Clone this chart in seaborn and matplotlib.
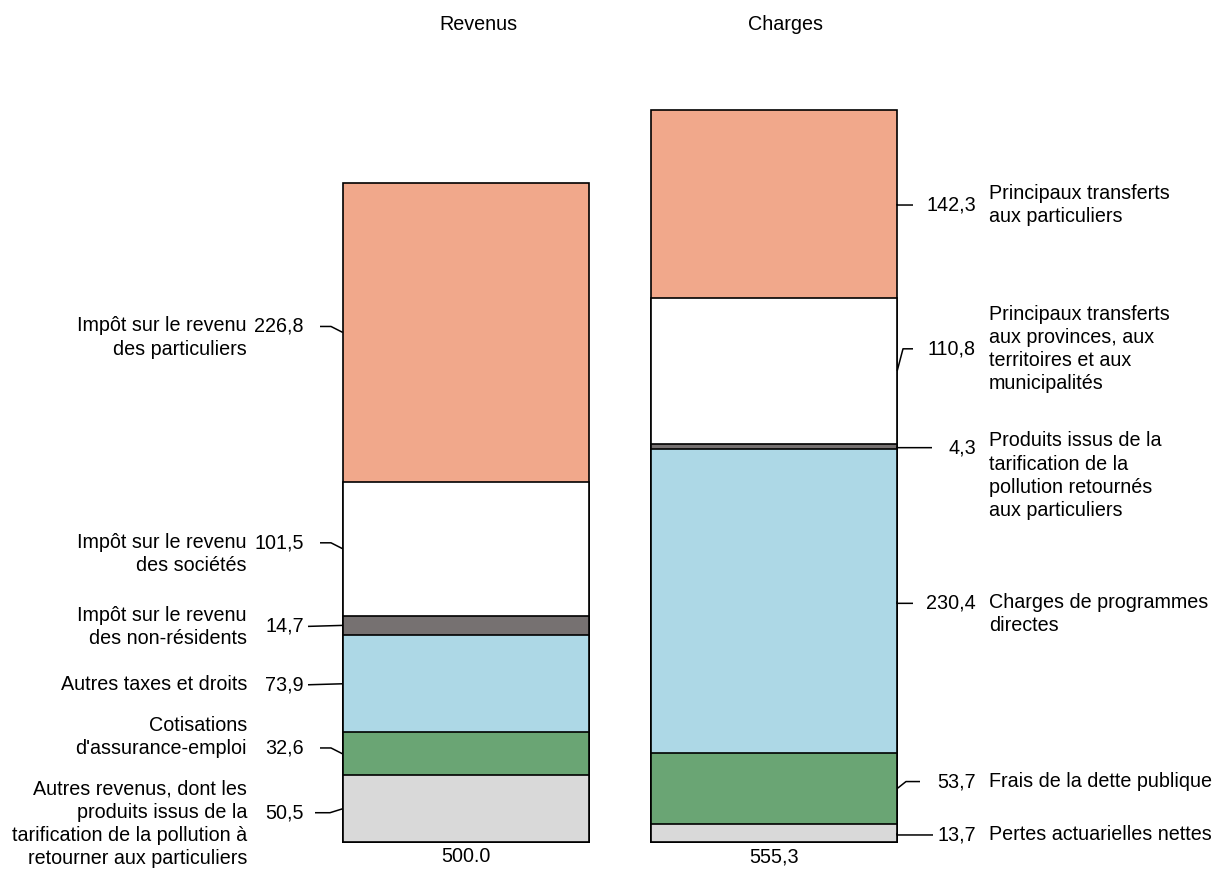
import matplotlib
matplotlib.use("Agg")
import matplotlib.pyplot as plt
import seaborn as sns
import pandas as pd
import numpy as np

# ---- data ----
groups = ["Revenus", "Charges"]
total_labels = ["500.0", "555,3"]

revenus_values = [50.5, 32.6, 73.9, 14.7, 101.5, 226.8]
revenus_labels = [
    "Autres revenus, dont les\nproduits issus de la\ntarification de la pollution à\nretourner aux particuliers",
    "Cotisations\nd'assurance-emploi",
    "Autres taxes et droits",
    "Impôt sur le revenu\ndes non-résidents",
    "Impôt sur le revenu\ndes sociétés",
    "Impôt sur le revenu\ndes particuliers",
]

charges_values = [13.7, 53.7, 230.4, 4.3, 110.8, 142.3]
charges_labels = [
    "Pertes actuarielles nettes",
    "Frais de la dette publique",
    "Charges de programmes\ndirectes",
    "Produits issus de la\ntarification de la\npollution retournés\naux particuliers",
    "Principaux transferts\naux provinces, aux\nterritoires et aux\nmunicipalités",
    "Principaux transferts\naux particuliers",
]

# one colour per stack level, bottom to top
layer_colors = ["#d9d9d9", "#6aa574", "#add8e6", "#767171", "#ffffff", "#f1a88b"]

# ---- layout (pixels) ----
W, H = 1213, 873
BASE_PY = 842          # pixel row of value 0
PX_PER_UNIT = 1.318    # pixels per unit of value
CENTER0_PX = 466       # pixel column of first bar centre
STEP_PX = 308          # pixels between bar centres
FS = 14.2

# label offsets, bottom to top: number dy from segment middle, text dy from number
left_num_dy = [4, -6, 1, 1, -6, -6]
left_text_dy = [11, -11, 0, 1, 11, 11]
left_leader = [(315, 330), (320, 331), (308, 308), (308, 308), (320, 331), (320, 331)]

right_num_dy = [2, -7, 2, 1, -22, 1]
right_text_dy = [0, 0, 11, 28, 0, 0]
right_leader = [(897, 933), (906, 920), (897, 913), (897, 932), (903, 913), (897, 913)]


def px_x(px):
    return (px - CENTER0_PX) / STEP_PX


def dv(dpx):
    # pixel offset (down positive) to value offset
    return -dpx / PX_PER_UNIT


def fmt(v):
    return f"{v:.1f}".replace(".", ",")


sns.set_theme(style="white")
plt.rcParams["font.family"] = ["Liberation Sans", "DejaVu Sans"]
plt.rcParams["text.color"] = "black"

fig = plt.figure(figsize=(W / 100, H / 100), dpi=100)
ax = fig.add_axes([0, 0, 1, 1])

stacks = [np.cumsum(revenus_values), np.cumsum(charges_values)]

# draw from the top layer down so each lower cumulative bar covers the one above
for k in reversed(range(len(layer_colors))):
    frame = pd.DataFrame({"group": groups, "top": [s[k] for s in stacks]})
    sns.barplot(data=frame, x="group", y="top", order=groups, color=layer_colors[k],
                saturation=1, edgecolor="black", linewidth=1.2, width=0.8,
                errorbar=None, ax=ax)

ax.set_xlim(px_x(0), px_x(W))
ax.set_ylim((BASE_PY - H) / PX_PER_UNIT, BASE_PY / PX_PER_UNIT)
ax.axis("off")

# titles and totals
for i, (g, t) in enumerate(zip(groups, total_labels)):
    ax.text(i + 12 / STEP_PX, (BASE_PY - 25) / PX_PER_UNIT, g, ha="center", va="center", fontsize=FS)
    ax.text(i, (BASE_PY - 857) / PX_PER_UNIT, t, ha="center", va="center", fontsize=FS)

# left labels (Revenus)
bottoms = np.concatenate([[0], stacks[0][:-1]])
for k, v in enumerate(revenus_values):
    mid = bottoms[k] + v / 2
    ny = mid + dv(left_num_dy[k])
    ax.text(px_x(304), ny, fmt(v), ha="right", va="center", fontsize=FS)
    ax.text(px_x(247), ny + dv(left_text_dy[k]), revenus_labels[k], ha="right", va="center",
            multialignment="right", fontsize=FS, linespacing=1.28)
    x0, xe = left_leader[k]
    ax.plot([px_x(x0), px_x(xe), -0.4], [ny, ny, mid], color="black", lw=1.1,
            solid_capstyle="butt")

# right labels (Charges)
bottoms = np.concatenate([[0], stacks[1][:-1]])
for k, v in enumerate(charges_values):
    mid = bottoms[k] + v / 2
    ny = mid + dv(right_num_dy[k])
    ax.text(px_x(976), ny, fmt(v), ha="right", va="center", fontsize=FS)
    ax.text(px_x(989), ny + dv(right_text_dy[k]), charges_labels[k], ha="left", va="center",
            multialignment="left", fontsize=FS, linespacing=1.28)
    xe, x1 = right_leader[k]
    ax.plot([1.4, px_x(xe), px_x(x1)], [mid, ny, ny], color="black", lw=1.1,
            solid_capstyle="butt")

fig.savefig("out.png", dpi=100)
